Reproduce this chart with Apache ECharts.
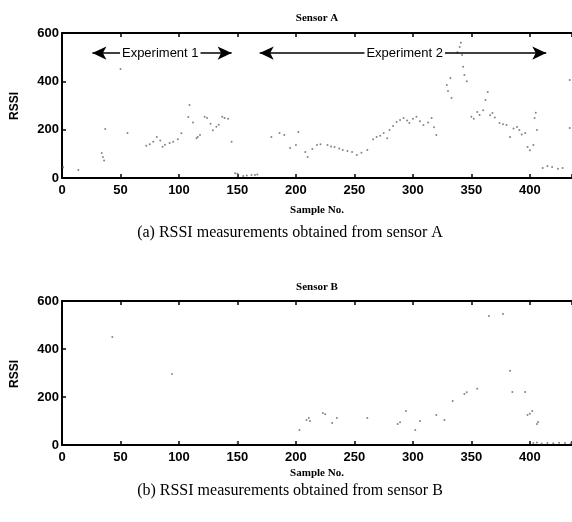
<!DOCTYPE html>
<html>
<head>
<meta charset="utf-8">
<script src="https://cdn.jsdelivr.net/npm/echarts@6/dist/echarts.min.js"></script>
<style>
html,body{margin:0;padding:0;background:#fff}
#main{width:572px;height:522px}
</style>
</head>
<body>
<div id="main"></div>
<script>
// sensor A samples (sample no., rssi)
var sampleA = [1,14,34,35,36,37,50,56,72,75,78,81,84,86,88,92,95,99,102,108,109,112,115,116,118,122,124,127,129,132,134,137,139,142,145,148,150,155,158,162,165,167,179,186,190,195,200,202,208,210,214,218,221,227,230,233,237,240,244,248,252,256,261,266,269,272,275,278,280,283,286,289,292,295,297,300,303,306,309,313,316,318,320,329,330,332,333,338,340,341,342,343,344,346,350,352,355,357,360,362,364,366,368,370,374,377,380,383,386,389,391,393,396,398,400,403,404,405,406,411,415,419,424,428,434,434]
var rssiA = [45,33,103,87,72,203,451,186,133,140,150,170,155,129,138,145,150,160,185,252,302,230,165,170,178,253,248,225,198,212,220,253,248,245,150,20,18,8,10,12,12,15,170,186,178,124,137,190,108,87,120,137,140,137,130,128,122,116,112,108,95,105,116,160,170,175,186,165,199,215,232,240,248,238,228,245,253,235,219,230,248,210,178,385,360,414,331,520,542,560,509,460,426,400,253,245,273,261,280,323,356,260,269,250,228,222,219,170,205,211,199,180,186,128,115,137,248,270,199,41,50,46,38,41,406,207]

// sensor B samples
var sampleB = [43,94,150,203,209,211,212,223,225,231,235,261,287,289,294,302,306,320,327,334,344,346,355,365,377,383,385,396,398,400,402,406,407,403,406,410,415,420,425,430,435]
var rssiB = [450,296,8,63,104,113,100,133,128,92,113,113,88,95,142,63,100,125,104,183,213,220,234,538,546,309,221,221,125,130,142,88,96,8,10,6,8,7,9,8,7]

var xTicks = [0,50,100,150,200,250,300,350,400]

// experiment spans on sensor A plot
var exp1 = [26,145]
var exp2 = [169,414]
var expLabelX = [84,293]
var expLevel = 517

function pairs(xs, ys) {
    var out = []
    for (let i = 0; i < xs.length; i++) {
        out.push([xs[i], ys[i]])
    }
    return out
}

var tickFont = {fontFamily: 'Liberation Sans', fontWeight: 'bold', fontSize: 13, color: '#000'}

function bottomX(gi) {
    return {
        type: 'value', gridIndex: gi, position: 'bottom',
        min: 0, max: 436, interval: 50,
        axisLine: {show: true, lineStyle: {color: '#000', width: 2}},
        axisTick: {show: true, inside: true, length: 4, lineStyle: {color: '#000', width: 1.5}},
        axisLabel: Object.assign({margin: 6, customValues: xTicks}, tickFont),
        splitLine: {show: false}
    }
}
function topX(gi) {
    return {
        type: 'value', gridIndex: gi, position: 'top',
        min: 0, max: 436, interval: 50,
        axisLine: {show: true, lineStyle: {color: '#000', width: 2}},
        axisTick: {show: true, inside: true, length: 4, lineStyle: {color: '#000', width: 1.5}},
        axisLabel: {show: false},
        splitLine: {show: false}
    }
}
function leftY(gi) {
    return {
        type: 'value', gridIndex: gi,
        min: 0, max: 600, interval: 200,
        axisLine: {show: true, lineStyle: {color: '#000', width: 2}},
        axisTick: {show: true, inside: true, length: 4, lineStyle: {color: '#000', width: 1.5}},
        axisLabel: Object.assign({margin: 3}, tickFont),
        splitLine: {show: false}
    }
}

var serif = 'Liberation Serif'
function txt(x, y, s, font, rot) {
    return {type: 'text', x: x, y: y, rotation: rot || 0,
        style: {text: s, font: font, fill: '#000', align: 'center', verticalAlign: 'middle'}}
}

var option = {
    backgroundColor: '#fff',
    animation: false,
    grid: [
        {left: 62, top: 33, right: 0, height: 145},
        {left: 62, top: 301, right: 0, height: 144}
    ],
    xAxis: [bottomX(0), topX(0), bottomX(1), topX(1)],
    yAxis: [leftY(0), leftY(1)],
    series: [
        {
            type: 'scatter', xAxisIndex: 0, yAxisIndex: 0,
            data: pairs(sampleA, rssiA),
            symbolSize: 2,
            itemStyle: {color: '#666'},
            markLine: {
                silent: true,
                symbol: ['arrow', 'arrow'],
                symbolSize: [10, 14],
                lineStyle: {color: '#000', width: 1.5, type: 'solid'},
                label: {show: false},
                data: [
                    [{coord: [exp1[0], expLevel]}, {coord: [exp1[1], expLevel]}],
                    [{coord: [exp2[0], expLevel]}, {coord: [exp2[1], expLevel]}]
                ]
            },
            markPoint: {
                silent: true,
                symbol: 'rect',
                symbolSize: 1,
                itemStyle: {color: 'rgba(0,0,0,0)'},
                label: {
                    show: true, position: 'inside', formatter: '{b}',
                    fontFamily: 'Liberation Sans', fontSize: 13, color: '#000',
                    backgroundColor: '#fff', padding: [1, 2]
                },
                data: [
                    {name: 'Experiment 1', coord: [expLabelX[0], expLevel]},
                    {name: 'Experiment 2', coord: [expLabelX[1], expLevel]}
                ]
            }
        },
        {
            type: 'scatter', xAxisIndex: 2, yAxisIndex: 1,
            data: pairs(sampleB, rssiB),
            symbolSize: 2,
            itemStyle: {color: '#666'}
        }
    ],
    graphic: [
        txt(317, 18, 'Sensor A', 'bold 11px ' + serif),
        txt(317, 210, 'Sample No.', 'bold 11px ' + serif),
        txt(15, 106, 'RSSI', 'bold 12px Liberation Sans', Math.PI / 2),
        txt(290, 233, '(a) RSSI measurements obtained from sensor A', '16px ' + serif),
        txt(317, 287, 'Sensor B', 'bold 11px ' + serif),
        txt(317, 473, 'Sample No.', 'bold 11px ' + serif),
        txt(15, 374, 'RSSI', 'bold 12px Liberation Sans', Math.PI / 2),
        txt(290, 491, '(b) RSSI measurements obtained from sensor B', '16px ' + serif)
    ]
}

var mCharts = echarts.init(document.getElementById('main'))
mCharts.setOption(option)
</script>
</body>
</html>
